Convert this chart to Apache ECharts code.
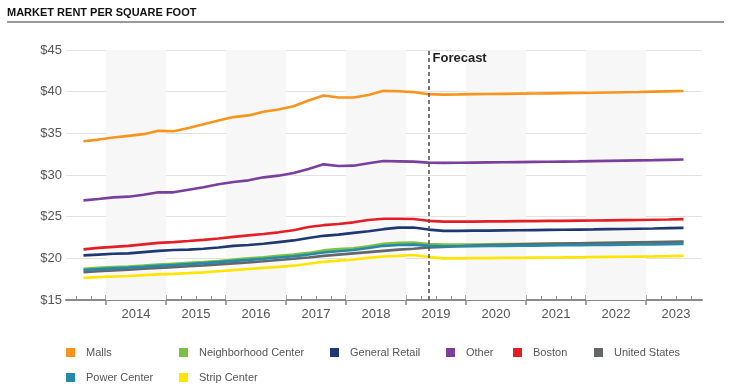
<!DOCTYPE html>
<html>
<head>
<meta charset="utf-8">
<script src="https://cdn.jsdelivr.net/npm/echarts@6/dist/echarts.min.js"></script>
<style>
html,body{margin:0;padding:0;background:#fff;}
#c{width:731px;height:392px;}
</style>
</head>
<body>
<div id="c"></div>
<script>
// Quarterly periods (2013 Q3 .. 2023 Q3)
const quarters = ['2013 Q3','2013 Q4',
 '2014 Q1','2014 Q2','2014 Q3','2014 Q4',
 '2015 Q1','2015 Q2','2015 Q3','2015 Q4',
 '2016 Q1','2016 Q2','2016 Q3','2016 Q4',
 '2017 Q1','2017 Q2','2017 Q3','2017 Q4',
 '2018 Q1','2018 Q2','2018 Q3','2018 Q4',
 '2019 Q1','2019 Q2','2019 Q3','2019 Q4',
 '2020 Q1','2020 Q2','2020 Q3','2020 Q4',
 '2021 Q1','2021 Q2','2021 Q3','2021 Q4',
 '2022 Q1','2022 Q2','2022 Q3','2022 Q4',
 '2023 Q1','2023 Q2','2023 Q3'];
const yearLabels = [2014,2015,2016,2017,2018,2019,2020,2021,2022,2023];
const shadedYears = [2014,2016,2018,2020,2022];
const forecastStart = '2019 Q2';
const yTicks = [15,20,25,30,35,40,45];

const malls = [34.05,34.25,34.5,34.7,34.9,35.3,35.25,35.65,36.1,36.55,36.95,37.15,37.6,37.85,38.25,38.95,39.55,39.3,39.3,39.6,40.1,40.05,39.95,39.7,
 39.65,39.67,39.7,39.72,39.74,39.76,39.78,39.8,39.82,39.84,39.87,39.9,39.93,39.96,40.0,40.04,40.08];
const neighborhood = [18.75,18.85,18.95,19.02,19.12,19.25,19.35,19.45,19.55,19.68,19.85,20.0,20.12,20.3,20.45,20.65,20.95,21.1,21.2,21.45,21.75,21.85,21.9,21.7,
 21.65,21.65,21.66,21.68,21.7,21.72,21.74,21.76,21.78,21.8,21.82,21.84,21.86,21.88,21.9,21.93,21.96];
const generalRetail = [20.35,20.45,20.55,20.6,20.75,20.9,21.0,21.05,21.15,21.3,21.5,21.6,21.75,21.95,22.15,22.45,22.7,22.85,23.05,23.25,23.5,23.68,23.7,23.45,
 23.3,23.3,23.32,23.33,23.35,23.37,23.39,23.41,23.43,23.45,23.47,23.5,23.52,23.55,23.58,23.62,23.66];
const other = [26.95,27.12,27.32,27.4,27.64,27.92,27.92,28.24,28.52,28.88,29.16,29.36,29.72,29.92,30.24,30.72,31.28,31.08,31.12,31.4,31.68,31.64,31.6,31.48,
 31.45,31.47,31.49,31.51,31.53,31.55,31.57,31.59,31.61,31.63,31.66,31.69,31.72,31.75,31.78,31.82,31.86];
const boston = [21.08,21.25,21.38,21.5,21.68,21.85,21.95,22.08,22.22,22.38,22.58,22.75,22.92,23.12,23.38,23.75,23.98,24.12,24.32,24.6,24.75,24.75,24.72,24.5,
 24.4,24.4,24.41,24.43,24.44,24.46,24.47,24.49,24.5,24.52,24.54,24.56,24.58,24.6,24.63,24.66,24.7];
const unitedStates = [18.35,18.45,18.55,18.65,18.75,18.85,18.95,19.05,19.15,19.27,19.4,19.52,19.65,19.8,19.95,20.1,20.3,20.45,20.6,20.75,20.9,21.05,21.15,21.3,
 21.38,21.45,21.52,21.58,21.63,21.67,21.7,21.73,21.76,21.79,21.82,21.85,21.88,21.91,21.94,21.97,22.0];
const powerCenter = [18.6,18.7,18.8,18.88,18.98,19.1,19.2,19.3,19.42,19.55,19.7,19.82,19.95,20.1,20.25,20.45,20.7,20.85,21.0,21.25,21.5,21.6,21.65,21.5,
 21.45,21.45,21.47,21.48,21.5,21.52,21.53,21.55,21.57,21.58,21.6,21.62,21.64,21.66,21.68,21.71,21.74];
const stripCenter = [17.65,17.75,17.82,17.88,17.98,18.08,18.14,18.22,18.32,18.45,18.58,18.72,18.86,18.98,19.12,19.35,19.58,19.72,19.86,20.05,20.22,20.3,20.4,20.15,
 20.0,20.0,20.02,20.03,20.05,20.06,20.08,20.1,20.11,20.13,20.15,20.17,20.19,20.21,20.23,20.26,20.3];

const seriesNames = ['Malls','Neighborhood Center','General Retail','Other','Boston','United States','Power Center','Strip Center'];
const seriesData = [malls, neighborhood, generalRetail, other, boston, unitedStates, powerCenter, stripCenter];
const colors = ['#F7941D','#7CC242','#1D3872','#7A3E9D','#E31E26','#646669','#2689A9','#FFE500'];

// quarter label -> decimal year at quarter midpoint
function qx(q){ const p=q.split(' Q'); return +p[0] + (+p[1]-1)/4 + 0.125; }
const xs = quarters.map(qx);
const quarterBounds = [];
for (let y=2013; y<=2023; y++) for (let k=1;k<4;k++){ const v=y+k/4; if(v>2013.34 && v<2023.93) quarterBounds.push(v); }

const chart = echarts.init(document.getElementById('c'), null, {renderer:'canvas'});
const xMin = 2013 + 1/3, xMax = 2023.933;
const font = 'Liberation Sans, Arial, sans-serif';

const series = seriesNames.map((n,i)=>({
  name:n, type:'line', xAxisIndex:0, yAxisIndex:0,
  data: seriesData[i].map((v,j)=>[xs[j], v]),
  showSymbol:false, symbol:'none',
  lineStyle:{width:2.6, color:colors[i]},
  itemStyle:{color:colors[i]},
  z: 3, silent:true
}));
series[0].markArea = {
  silent:true,
  itemStyle:{color:'#f7f7f7'},
  data: shadedYears.map(y=>[{xAxis:y},{xAxis:y+1}])
};
series.push({
  name:'_forecast', type:'line', data:[], silent:true,
  markLine:{
    silent:true, symbol:['none','none'],
    lineStyle:{type:[4,3], color:'#555', width:1.6},
    label:{show:false},
    data:[{xAxis:qx(forecastStart)}]
  },
  markPoint:{
    symbol:'circle', symbolSize:0,
    label:{show:true, formatter:'Forecast', position:'right', distance:4, offset:[0,8],
      fontFamily:font, fontWeight:'bold', fontSize:13, color:'#222'},
    data:[{coord:[qx(forecastStart), yTicks[yTicks.length-1]]}]
  },
  z: 4
});

const baseX = {type:'value', min:xMin, max:xMax, gridIndex:0, position:'bottom'};
const legendCols = [[0,6],[1,7],[2],[3],[4],[5]];
const legendLeft = [61,174,325,441,508,589];

chart.setOption({
  animation:false,
  color:colors,
  grid:{left:66, right:29, top:50, bottom:92},
  xAxis:[
    Object.assign({}, baseX, {
      axisLine:{show:true, lineStyle:{color:'#8a8a8a', width:2}},
      axisTick:{show:true, inside:true, length:5, customValues:yearLabels, lineStyle:{color:'#8a8a8a', width:1.5}},
      axisLabel:{show:true, customValues:yearLabels.map(y=>y+0.5), formatter:v=>String(Math.floor(v)),
        color:'#555', fontSize:13, fontFamily:font, margin:8},
      splitLine:{show:false}
    }),
    Object.assign({}, baseX, {
      axisLine:{show:false},
      axisTick:{show:true, inside:false, length:5, customValues:yearLabels, lineStyle:{color:'#8a8a8a', width:1.5}},
      axisLabel:{show:false}, splitLine:{show:false}
    }),
    Object.assign({}, baseX, {
      axisLine:{show:false},
      axisTick:{show:true, inside:true, length:4, customValues:quarterBounds, lineStyle:{color:'#8a8a8a', width:1}},
      axisLabel:{show:false}, splitLine:{show:false}
    })
  ],
  yAxis:{
    type:'value', min:yTicks[0], max:yTicks[yTicks.length-1], interval:5,
    axisLine:{show:false}, axisTick:{show:false},
    axisLabel:{formatter:v=>'$'+v, color:'#555', fontSize:13, fontFamily:font, margin:4},
    splitLine:{lineStyle:{color:'#e2e2e2', width:1}}
  },
  legend: legendCols.map((idx,k)=>({
    data: idx.map(i=>seriesNames[i]),
    orient:'vertical', left:legendLeft[k], top:342, itemGap:14,
    itemWidth:9, itemHeight:9, icon:'rect',
    textStyle:{color:'#555', fontSize:11, fontFamily:font, padding:[0,0,0,6]},
    selectedMode:false
  })),
  graphic:[
    {type:'text', left:7, top:7, style:{text:'MARKET RENT PER SQUARE FOOT', font:'bold 11px '+font, fill:'#111'}},
    {type:'line', shape:{x1:7, y1:22, x2:724, y2:22}, style:{stroke:'#9a9a9a', lineWidth:2}}
  ],
  series: series
});
</script>
</body>
</html>
